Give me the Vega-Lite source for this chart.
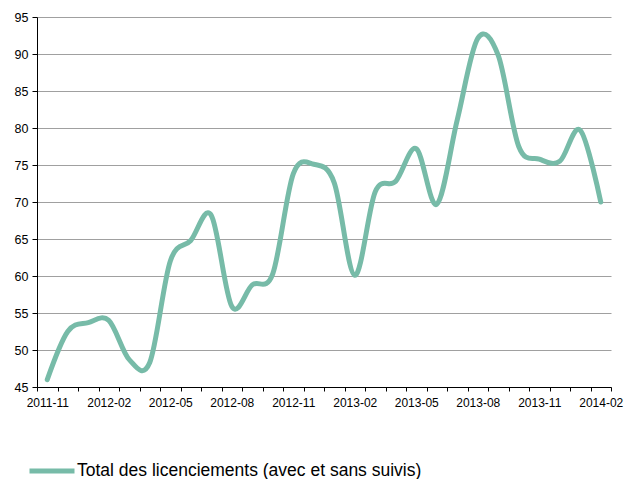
{
  "$schema": "https://vega.github.io/schema/vega-lite/v6.json",
  "width": 574,
  "height": 370,
  "autosize": {"type": "none"},
  "padding": {"left": 37, "top": 17, "right": 13, "bottom": 92},
  "background": "white",
  "config": {
    "font": "Liberation Sans",
    "view": {"stroke": null}
  },
  "data": {
    "values": [
      {"month": "2011-11", "value": 46.0, "serie": "Total des licenciements (avec et sans suivis)"},
      {"month": "2011-12", "value": 52.5, "serie": "Total des licenciements (avec et sans suivis)"},
      {"month": "2012-01", "value": 53.7, "serie": "Total des licenciements (avec et sans suivis)"},
      {"month": "2012-02", "value": 54.0, "serie": "Total des licenciements (avec et sans suivis)"},
      {"month": "2012-03", "value": 48.7, "serie": "Total des licenciements (avec et sans suivis)"},
      {"month": "2012-04", "value": 48.3, "serie": "Total des licenciements (avec et sans suivis)"},
      {"month": "2012-05", "value": 62.0, "serie": "Total des licenciements (avec et sans suivis)"},
      {"month": "2012-06", "value": 64.8, "serie": "Total des licenciements (avec et sans suivis)"},
      {"month": "2012-07", "value": 68.2, "serie": "Total des licenciements (avec et sans suivis)"},
      {"month": "2012-08", "value": 55.9, "serie": "Total des licenciements (avec et sans suivis)"},
      {"month": "2012-09", "value": 58.8, "serie": "Total des licenciements (avec et sans suivis)"},
      {"month": "2012-10", "value": 60.3, "serie": "Total des licenciements (avec et sans suivis)"},
      {"month": "2012-11", "value": 73.8, "serie": "Total des licenciements (avec et sans suivis)"},
      {"month": "2012-12", "value": 75.1, "serie": "Total des licenciements (avec et sans suivis)"},
      {"month": "2013-01", "value": 72.6, "serie": "Total des licenciements (avec et sans suivis)"},
      {"month": "2013-02", "value": 60.1, "serie": "Total des licenciements (avec et sans suivis)"},
      {"month": "2013-03", "value": 71.4, "serie": "Total des licenciements (avec et sans suivis)"},
      {"month": "2013-04", "value": 72.8, "serie": "Total des licenciements (avec et sans suivis)"},
      {"month": "2013-05", "value": 77.2, "serie": "Total des licenciements (avec et sans suivis)"},
      {"month": "2013-06", "value": 69.7, "serie": "Total des licenciements (avec et sans suivis)"},
      {"month": "2013-07", "value": 81.1, "serie": "Total des licenciements (avec et sans suivis)"},
      {"month": "2013-08", "value": 92.1, "serie": "Total des licenciements (avec et sans suivis)"},
      {"month": "2013-09", "value": 89.8, "serie": "Total des licenciements (avec et sans suivis)"},
      {"month": "2013-10", "value": 77.5, "serie": "Total des licenciements (avec et sans suivis)"},
      {"month": "2013-11", "value": 75.8, "serie": "Total des licenciements (avec et sans suivis)"},
      {"month": "2013-12", "value": 75.5, "serie": "Total des licenciements (avec et sans suivis)"},
      {"month": "2014-01", "value": 79.7, "serie": "Total des licenciements (avec et sans suivis)"},
      {"month": "2014-02", "value": 70.0, "serie": "Total des licenciements (avec et sans suivis)"}
    ]
  },
  "mark": {"type": "line", "interpolate": "cardinal", "strokeWidth": 5, "strokeCap": "round", "strokeJoin": "round"},
  "encoding": {
    "x": {
      "field": "month",
      "type": "ordinal",
      "sort": null,
      "bandPosition": 0.5,
      "scale": {"type": "band", "paddingInner": 0, "paddingOuter": 0},
      "axis": {
        "title": null,
        "labelAngle": 0,
        "labelExpr": "indexof(['2011-11','2012-02','2012-05','2012-08','2012-11','2013-02','2013-05','2013-08','2013-11','2014-02'], datum.value) >= 0 ? datum.value : ''",
        "labelFont": "Liberation Sans",
        "labelFontSize": 12,
        "labelColor": "#000000",
        "labelPadding": 6,
        "labelOverlap": false,
        "tickBand": "extent",
        "tickSize": 4,
        "tickColor": "#000000",
        "domainColor": "#000000",
        "domainWidth": 1,
        "grid": false
      }
    },
    "y": {
      "field": "value",
      "type": "quantitative",
      "scale": {"domain": [45, 95], "nice": false, "zero": false},
      "axis": {
        "title": null,
        "values": [45, 50, 55, 60, 65, 70, 75, 80, 85, 90, 95],
        "labelFont": "Liberation Sans",
        "labelFontSize": 12.5,
        "labelColor": "#000000",
        "labelPadding": 4,
        "tickSize": 5,
        "tickColor": "#000000",
        "domainColor": "#000000",
        "domainWidth": 1,
        "grid": true,
        "gridColor": "#a0a0a0",
        "gridWidth": 1
      }
    },
    "color": {
      "field": "serie",
      "type": "nominal",
      "scale": {"range": ["#77bba8"]},
      "legend": {
        "title": null,
        "orient": "none",
        "legendX": -10,
        "legendY": 429,
        "padding": 0,
        "symbolType": "stroke",
        "symbolSize": 2025,
        "symbolStrokeWidth": 5,
        "labelFont": "Liberation Sans",
        "labelFontSize": 17.5,
        "labelColor": "#000000",
        "labelOffset": 0,
        "labelLimit": 600
      }
    }
  }
}
